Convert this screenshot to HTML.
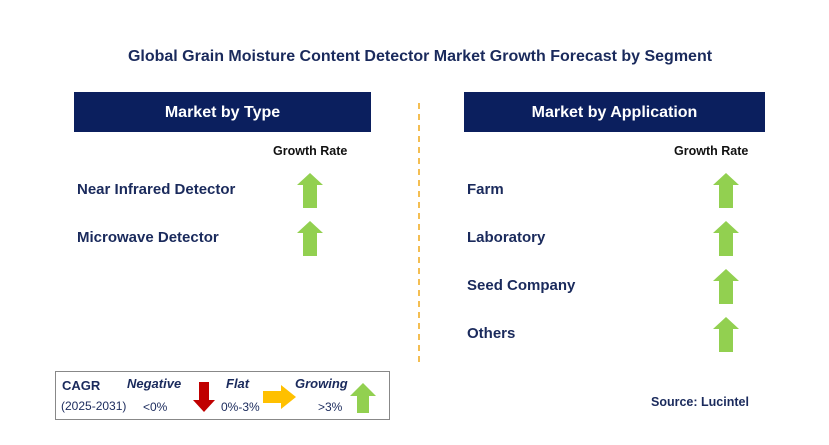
<!DOCTYPE html>
<html><head><meta charset="utf-8"><style>
body{margin:0;width:829px;height:445px;background:#fff;position:relative;overflow:hidden;font-family:"Liberation Sans",Arial,sans-serif;}
.abs{position:absolute;}
.title{left:0;width:840px;top:48px;text-align:center;font-weight:bold;font-size:16px;color:#1a2a5c;}
.hdr{background:#0b1f5e;color:#fff;font-weight:bold;font-size:16px;text-align:center;line-height:42px;height:40px;}
.gr{font-weight:bold;font-size:12.5px;color:#111;}
.lbl{font-weight:bold;font-size:15px;color:#1a2a5c;}
</style></head><body>
<div class="abs title">Global Grain Moisture Content Detector Market Growth Forecast by Segment</div>
<div class="abs hdr" style="left:74px;top:92px;width:297px">Market by Type</div>
<div class="abs hdr" style="left:464px;top:92px;width:301px">Market by Application</div>
<div class="abs gr" style="left:273px;top:144px">Growth Rate</div>
<div class="abs gr" style="left:674px;top:144px">Growth Rate</div>
<svg class="abs" style="left:0;top:0" width="829" height="445">
<line x1="419" y1="103" x2="419" y2="365" stroke="#f0a818" stroke-width="1.5" stroke-dasharray="6,5"/>
</svg>
<div id="rows"></div>
<div class="abs" style="left:55px;top:371px;width:333px;height:47px;border:1px solid #888;"></div>
<div class="abs" style="left:62px;top:378px;font-weight:bold;font-size:13px;color:#1a2a5c">CAGR</div>
<div class="abs" style="left:61px;top:399px;font-size:12px;color:#1a2a5c">(2025-2031)</div>
<div class="abs" style="left:127px;top:376px;font-weight:bold;font-style:italic;font-size:13px;color:#1a2a5c">Negative</div>
<div class="abs" style="left:143px;top:400px;font-size:12px;color:#1a2a5c">&lt;0%</div>
<div class="abs" style="left:226px;top:376px;font-weight:bold;font-style:italic;font-size:13px;color:#1a2a5c">Flat</div>
<div class="abs" style="left:221px;top:400px;font-size:12px;color:#1a2a5c">0%-3%</div>
<div class="abs" style="left:295px;top:376px;font-weight:bold;font-style:italic;font-size:13px;color:#1a2a5c">Growing</div>
<div class="abs" style="left:318px;top:400px;font-size:12px;color:#1a2a5c">&gt;3%</div>
<svg class="abs" style="left:0;top:0" width="829" height="445">
<polygon points="199,382 209,382 209,400 215,400 204,412 193,400 199,400" fill="#c00000"/>
<polygon points="263,391 281,391 281,385 296,397 281,409 281,403 263,403" fill="#ffc000"/>
<polygon points="357,413 357,396 350,396 363,383 376,396 369,396 369,413" fill="#92d050"/>
</svg>
<div class="abs" style="left:651px;top:395px;font-weight:bold;font-size:12.5px;color:#1a2a5c">Source: Lucintel</div>
<script>
const typeSegments=["Near Infrared Detector","Microwave Detector"];
const appSegments=["Farm","Laboratory","Seed Company","Others"];
const rows=document.getElementById('rows');
function up(x,y){return `<svg class="abs" style="left:${x}px;top:${y}px" width="28" height="36"><polygon points="7,36 7,13 1,13 14,1 27,13 21,13 21,36" fill="#92d050"/></svg>`;}
function add(list,lx,ax,side){
 list.forEach((t,i)=>{
  const y=190+i*48;
  const d=document.createElement('div');
  d.className='abs lbl';d.style.left=lx+'px';d.style.top=(y-9)+'px';d.textContent=t;
  
  
  rows.appendChild(d);
  const a=document.createElement('div');
  a.innerHTML=up(ax,y-18);
  const s=a.firstChild;
  
  
  rows.appendChild(s);
 });
}
add(typeSegments,77,296,'type');
add(appSegments,467,712,'application');
</script>
</body></html>
